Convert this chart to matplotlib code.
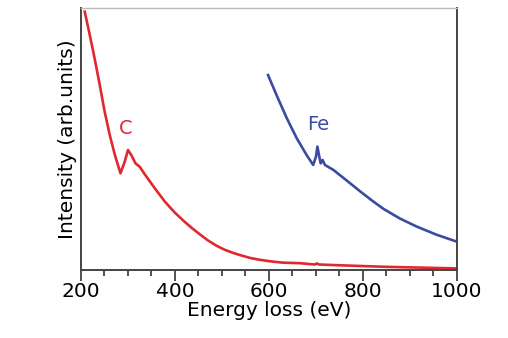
import numpy as np
import matplotlib.pyplot as plt
from matplotlib.ticker import MultipleLocator

# EELS spectra, C K-edge (red) and Fe L-edge (blue), intensity in arb. units
c_energy = [208, 218, 229, 240, 250, 261, 272, 284, 293, 300, 307, 316, 325,
            335, 347, 357, 378, 398, 418, 436, 453, 470, 489, 506, 524, 542,
            560, 577, 595, 613, 630, 648, 666, 690, 698, 702, 706, 750, 800,
            850, 900, 950, 1000]
c_intensity = [0.986, 0.903, 0.808, 0.706, 0.608, 0.517, 0.440, 0.369, 0.413,
               0.458, 0.439, 0.407, 0.394, 0.367, 0.337, 0.312, 0.262, 0.222,
               0.188, 0.160, 0.136, 0.113, 0.092, 0.077, 0.065, 0.055, 0.046,
               0.040, 0.035, 0.031, 0.028, 0.027, 0.026, 0.022, 0.021, 0.025,
               0.021, 0.018, 0.015, 0.012, 0.010, 0.008, 0.006]

fe_energy = [598, 616, 638, 659, 680, 694, 700, 703, 707, 710, 714, 719, 737,
             772, 794, 820, 843, 878, 914, 956, 1000]
fe_intensity = [0.744, 0.668, 0.579, 0.503, 0.439, 0.401, 0.433, 0.471, 0.433,
                0.407, 0.420, 0.401, 0.382, 0.332, 0.300, 0.264, 0.234, 0.197,
                0.166, 0.135, 0.108]

fig = plt.figure(figsize=(5.08, 3.38), dpi=100)
ax = fig.add_axes([0.1594, 0.2012, 0.7402, 0.7751])

ax.plot(c_energy, c_intensity, color='#e0282e', lw=1.9, solid_joinstyle='round')
ax.plot(fe_energy, fe_intensity, color='#3a4ba0', lw=1.9, solid_joinstyle='round')

ax.text(296, 0.54, 'C', color='#e0282e', fontsize=14, ha='center', va='center')
ax.text(705, 0.555, 'Fe', color='#3a4ba0', fontsize=14, ha='center', va='center')

ax.set_xlim(200, 1000)
ax.set_ylim(0, 1)
ax.xaxis.set_major_locator(MultipleLocator(200))
ax.xaxis.set_minor_locator(MultipleLocator(50))
ax.tick_params(axis='x', which='major', length=8, width=1.2, color='#333333',
               labelsize=14.5, pad=1)
ax.tick_params(axis='x', which='minor', length=4, width=1.2, color='#333333')
ax.set_yticks([])

for side in ['left', 'bottom', 'right']:
    ax.spines[side].set_color('#444444')
    ax.spines[side].set_linewidth(1.4)
ax.spines['top'].set_color('#bbbbbb')
ax.spines['top'].set_linewidth(1.0)

ax.set_xlabel('Energy loss (eV)', fontsize=14.5, labelpad=0)
ax.set_ylabel('Intensity (arb.units)', fontsize=14.5, labelpad=3)

fig.savefig('out.png', dpi=100)
